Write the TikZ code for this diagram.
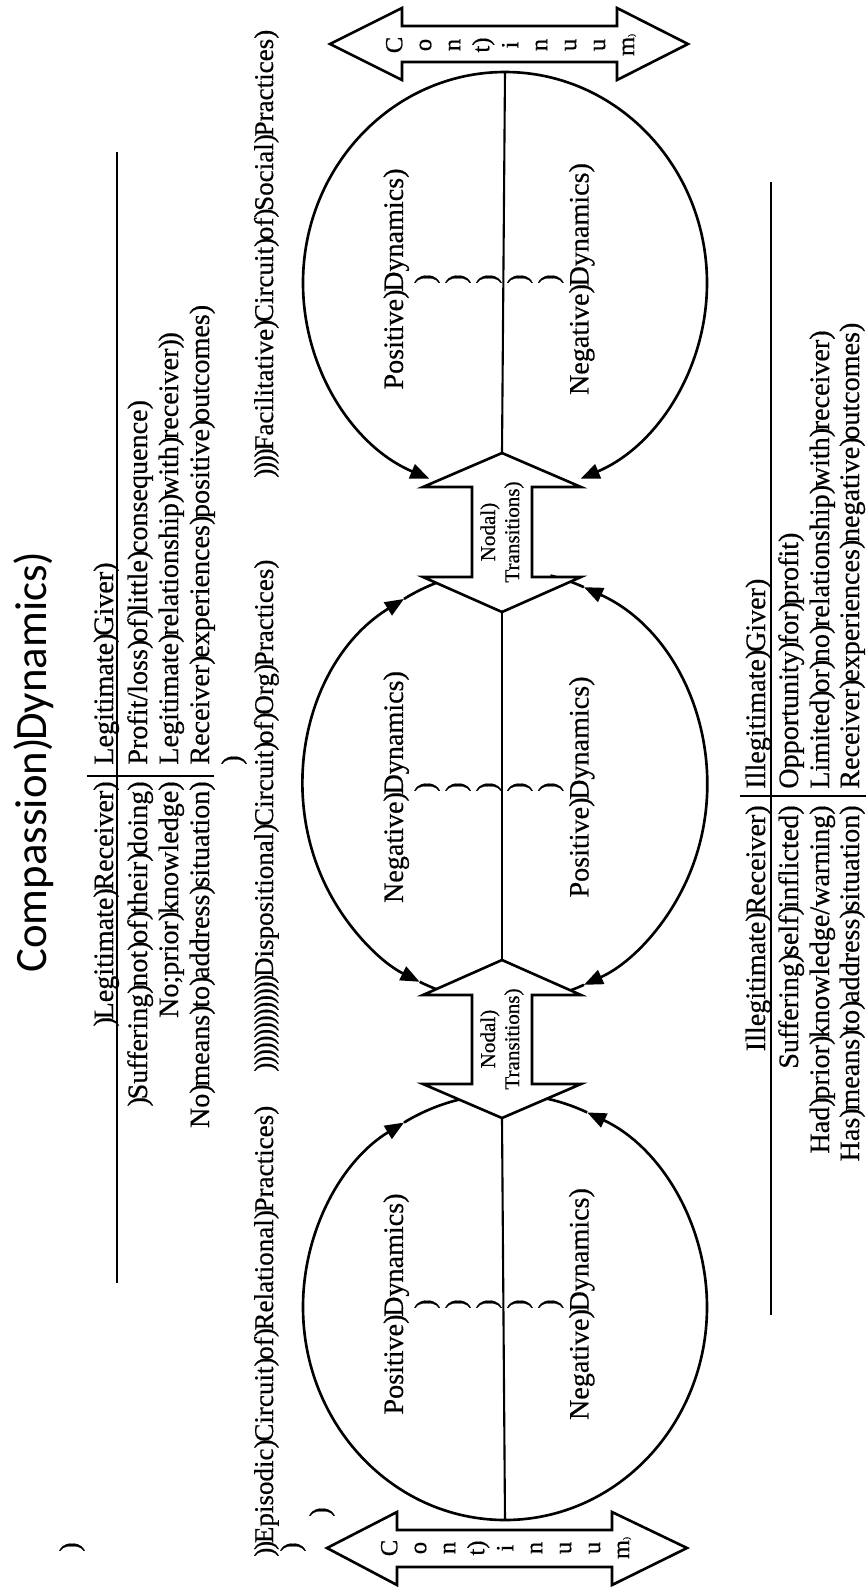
\documentclass[tikz,border=0pt]{standalone}
\usepackage{fontspec}
\setmainfont{Liberation Serif}[FakeBold=0.5]
\newfontfamily\titlefont{Carlito}
\usetikzlibrary{arrows.meta}
\newcommand{\gp}{\makebox[0.25em][l]{)}}

\tikzset{
  txt/.style={rotate=90, inner sep=0pt, font=\fontsize{16}{17.6}\selectfont},
  linetxt/.style={txt, font=\fontsize{15.4}{17.6}\selectfont},
  ringtxt/.style={txt, align=center},
  nodaltxt/.style={rotate=90, inner sep=0pt, align=center, font=\fontsize{12}{13.7}\selectfont},
  conttxt/.style={rotate=90, inner sep=0pt, align=center, font=\fontsize{14}{16.5}\selectfont},
  bigarrow/.style={draw, line width=1.5pt, fill=white, line join=miter},
  ring/.style={line width=1.5pt},
  divider/.style={line width=1.2pt},
  rule/.style={line width=0.7pt},
  >={Triangle[length=0.38cm, width=0.3cm]}
}

\begin{document}
\begin{tikzpicture}[x=0.02cm, y=-0.02cm]
  \useasboundingbox (0,0) rectangle (866,1587);

  % === title ===
  \node[rotate=90, inner sep=0pt, font=\titlefont\fontsize{25.5}{30}\selectfont] (title) at (34,762) {Compassion\gp Dynamics)};
  \node[txt] (markA) at (72,1547) {)};

  % === legitimate table ===
  \draw[rule] (117,152) -- (117,1283);
  \draw[rule] (87,776) -- (214,776);
  \node[txt, anchor=base east] (recvH) at (113,781) {\gp Legitimate\gp Receiver)};
  \node[txt, anchor=base east] (recvA) at (147,781) {\gp Suffering\gp not\gp of\gp their\gp doing)};
  \node[txt, anchor=base east] (recvB) at (178,781) {No;prior\gp knowledge)};
  \node[txt, anchor=base east] (recvC) at (209,781) {No\gp means\gp to\gp address\gp situation)};
  \node[txt, anchor=base west] (giveH) at (113,765) {Legitimate\gp Giver)};
  \node[txt, anchor=base west] (giveA) at (147,765) {Profit/loss\gp of\gp little\gp consequence)};
  \node[txt, anchor=base west] (giveB) at (178,765) {Legitimate\gp relationship\gp with\gp receiver\gp)};
  \node[txt, anchor=base west] (giveC) at (209,765) {Receiver\gp experiences\gp positive\gp outcomes)};
  \node[txt] (markB) at (234,760) {)};

  % === circuits ===
  \node[linetxt, anchor=base west] (episodic) at (273,1557) {\gp\gp Episodic\gp Circuit\gp of\gp Relational\gp Practices)};
  \node[linetxt, anchor=base west] (dispositional) at (273,1072) {\gp\gp\gp\gp\gp\gp\gp\gp\gp\gp\gp\gp\gp\gp Dispositional\gp Circuit\gp of\gp Org\gp Practices)};
  \node[linetxt, anchor=base west] (facilitative) at (273,478) {\gp\gp\gp\gp Facilitative\gp Circuit\gp of\gp Social\gp Practices)};
  \node[txt] (markC) at (293,1547) {)};
  \node[txt] (markD) at (322,1512) {)};

  % === rings ===
  \draw[ring, ->] (505,283) ++(270:202 and 211) arc[start angle=270, end angle=112, x radius=202, y radius=211];
  \draw[ring, ->] (505,283) ++(-90:202 and 211) arc[start angle=-90, end angle=68, x radius=202, y radius=211];

  \draw[ring, <->] (505,786) ++(240:202 and 216) arc[start angle=240, end angle=115, x radius=202, y radius=216];
  \draw[ring] (505,786) ++(255:202 and 216) arc[start angle=255, end angle=240, x radius=202, y radius=216];
  \draw[ring] (505,786) ++(115:202 and 216) arc[start angle=115, end angle=107, x radius=202, y radius=216];
  \draw[ring, <->] (505,786) ++(-67:202 and 216) arc[start angle=-67, end angle=67, x radius=202, y radius=216];
  \draw[ring] (505,786) ++(-77:202 and 216) arc[start angle=-77, end angle=-67, x radius=202, y radius=216];
  \draw[ring] (505,786) ++(67:202 and 216) arc[start angle=67, end angle=74, x radius=202, y radius=216];

  \draw[ring, ->] (505,1307) ++(90:202 and 213) arc[start angle=90, end angle=240, x radius=202, y radius=213];
  \draw[ring] (505,1307) ++(240:202 and 213) arc[start angle=240, end angle=259, x radius=202, y radius=213];
  \draw[ring, ->] (505,1307) ++(90:202 and 213) arc[start angle=90, end angle=-66, x radius=202, y radius=213];
  \draw[ring] (505,1307) ++(-66:202 and 213) arc[start angle=-66, end angle=-80, x radius=202, y radius=213];

  % === continuum arrows ===
  \draw[bigarrow] (330,44) -- (402,8) -- (402,26) -- (617,26) -- (617,8) -- (688,44)
    -- (617,80) -- (617,62) -- (402,62) -- (402,80) -- cycle;
  \node[conttxt] (contTop) at (511,45) {C\\o\\n\\t)\\i\\n\\u\\u\\m{\tiny)}};
  \draw[bigarrow] (327,1548) -- (397,1512) -- (397,1530) -- (612,1530) -- (612,1512) -- (687,1548)
    -- (612,1585) -- (612,1567) -- (397,1567) -- (397,1585) -- cycle;
  \node[conttxt] (contBot) at (506,1548) {C\\o\\n\\t)\\i\\n\\u\\u\\m{\tiny)}};

  % === nodal transitions ===
  \draw[bigarrow] (502,453) -- (581,487) -- (532,487) -- (532,577) -- (581,577) -- (502,612)
    -- (423,577) -- (472,577) -- (472,487) -- (423,487) -- cycle;
  \node[nodaltxt] (nodalA) at (502,532) {Nodal)\\Transitions)};
  \draw[bigarrow] (502,960) -- (581,995) -- (532,995) -- (532,1084) -- (581,1084) -- (502,1118)
    -- (423,1084) -- (472,1084) -- (472,995) -- (423,995) -- cycle;
  \node[nodaltxt] (nodalB) at (502,1039) {Nodal)\\Transitions)};

  % === dividers ===
  \coordinate (ringAtop) at (505,72);
  \coordinate (nodalAin) at (502,453);
  \coordinate (nodalAout) at (502,612);
  \coordinate (nodalBin) at (502,960);
  \coordinate (nodalBout) at (502,1118);
  \coordinate (ringCbot) at (505,1520);
  \draw[divider] (ringAtop) -- (nodalAin);
  \draw[divider] (nodalAout) -- (nodalBin);
  \draw[divider] (nodalBout) -- (ringCbot);

  % === ring labels ===
  \node[ringtxt] (ringA) at (489,279) {Positive\gp Dynamics)\\)\\)\\)\\)\\)\\Negative\gp Dynamics)};
  \node[ringtxt] (ringB) at (489,787) {Negative\gp Dynamics)\\)\\)\\)\\)\\)\\Positive\gp Dynamics)};
  \node[ringtxt] (ringC) at (489,1304) {Positive\gp Dynamics)\\)\\)\\)\\)\\)\\Negative\gp Dynamics)};

  % === illegitimate table ===
  \draw[rule, line width=0.9pt] (771,182) -- (771,1315);
  \draw[rule, line width=0.9pt] (740,796) -- (866,796);
  \node[txt, anchor=base east] (irecvH) at (765,805) {Illegitimate\gp Receiver)};
  \node[txt, anchor=base east] (irecvA) at (798,805) {Suffering\gp self\gp inflicted)};
  \node[txt, anchor=base east] (irecvB) at (829,805) {Had\gp prior\gp knowledge/warning)};
  \node[txt, anchor=base east] (irecvC) at (859,805) {Has\gp means\gp to\gp address\gp situation)};
  \node[txt, anchor=base west] (igiveH) at (765,789) {Illegitimate\gp Giver)};
  \node[txt, anchor=base west] (igiveA) at (798,789) {Opportunity\gp for\gp profit)};
  \node[txt, anchor=base west] (igiveB) at (829,789) {Limited\gp or\gp no\gp relationship\gp with\gp receiver)};
  \node[txt, anchor=base west] (igiveC) at (859,789) {Receiver\gp experiences\gp negative\gp outcomes)};
\end{tikzpicture}
\end{document}
